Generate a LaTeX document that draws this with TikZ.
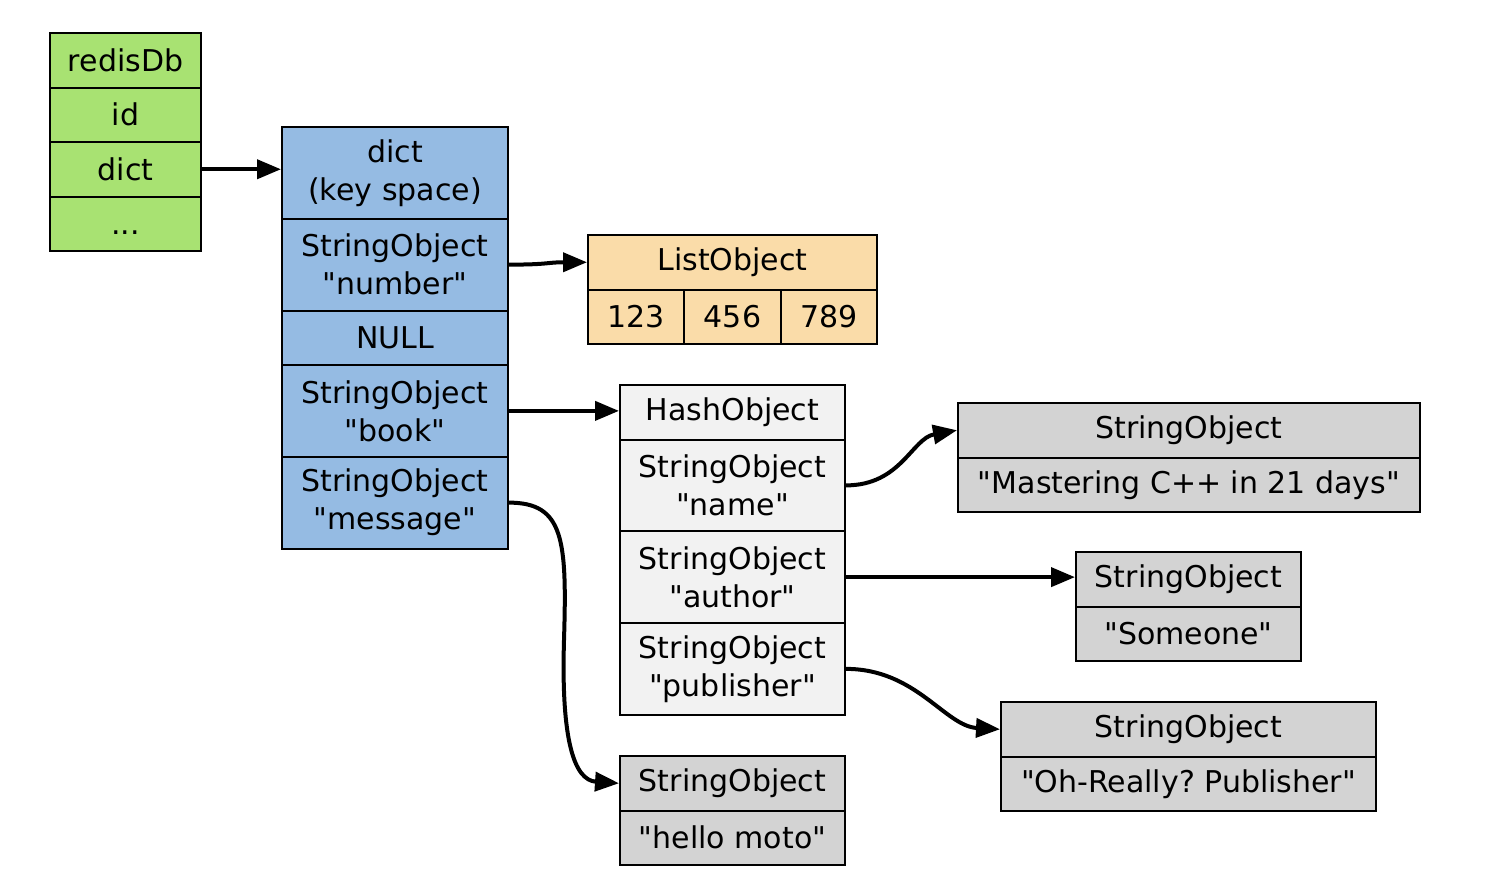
\documentclass[tikz,border=0pt]{standalone}
\usepackage{fontspec}
\setmainfont{DejaVu Sans}[Ligatures=TeXOff]
\usetikzlibrary{arrows.meta, calc, positioning}

\definecolor{dbgreen}{HTML}{A8E272}
\definecolor{keyblue}{HTML}{95BBE3}
\definecolor{listorange}{HTML}{FADCA9}
\definecolor{hashgray}{HTML}{F2F2F2}
\definecolor{strgray}{HTML}{D3D3D3}

\tikzset{
  field/.style={draw=black, line width=1pt, inner sep=0pt, align=center, font=\fontsize{15}{19}\selectfont\frenchspacing},
  ptr/.style={line width=2pt, -{Triangle[length=12pt,width=9.5pt]}},
}

\begin{document}
\begin{tikzpicture}[x=0.5pt,y=-0.5pt]
      \useasboundingbox (0,0) rectangle (1486,889);
      % redisDb
      \foreach \n/\t [count=\i] in {head/redisDb,id/id,dict/dict,more/{\vphantom{d}...}} {
        \node[field,fill=dbgreen,minimum width=75.5pt,minimum height=27.25pt] (db-\n) at (125.5,{33+54.5*(\i-0.5)}) {\t};
      }
      % key space
      \foreach \n/\y/\h/\t in {head/172.875/91.75/{dict\\(key space)},num/264.625/91.75/{StringObject\\"number"},null/337.75/54.5/NULL,book/410.875/91.75/{StringObject\\"book"},msg/502.625/91.75/{StringObject\\"message"}} {
        \node[field,fill=keyblue,minimum width=113pt,minimum height=\h*0.5pt] (key-\n) at (395,\y) {\t};
      }
      % list
      \node[field,fill=listorange,minimum width=144.5pt,minimum height=27.25pt] (list-head) at (732.5,262.25) {ListObject};
      \foreach \v [count=\i] in {123,456,789} {
        \node[field,fill=listorange,minimum width=48.1667pt,minimum height=27.25pt] (list-\i) at ({588+96.333*(\i-0.5)},316.75) {\v};
      }
      % hash
      \foreach \n/\y/\h/\t in {head/412.25/54.5/HashObject,name/485.375/91.75/{StringObject\\"name"},author/577.125/91.75/{StringObject\\"author"},pub/668.875/91.75/{StringObject\\"publisher"}} {
        \node[field,fill=hashgray,minimum width=112.5pt,minimum height=\h*0.5pt] (hash-\n) at (732.5,\y) {\t};
      }
      % string objects
      \foreach \n/\x/\y/\w/\v in {mast/1189/403/462/{"Mastering C++ in 21 days"},some/1188.5/552/225/{"Someone"},pub/1188.5/702/375/{"Oh-Really? Publisher"},hello/732.5/756/225/{"hello moto"}} {
        \node[field,fill=strgray,minimum width=\w*0.5pt,minimum height=27.25pt] (str-\n-head) at (\x,{\y+27.25}) {StringObject};
        \node[field,fill=strgray,minimum width=\w*0.5pt,minimum height=27.25pt] (str-\n-val) at (\x,{\y+81.75}) {\v};
      }

      \draw[ptr] (db-dict.east) -- (db-dict.east -| key-head.west);
      \draw[ptr] (key-num.east) .. controls +(40,0) and +(-40,0) .. (list-head.west);
      \draw[ptr] (key-book.east) -- (key-book.east -| hash-head.west);
      \coordinate (msg-bend) at (564,640);
      \draw[ptr] (key-msg.east) .. controls +(55,0) and +(3,-100) .. (msg-bend) .. controls +(-3,100) and +(-45,-3) .. (str-hello-head.west);
      \draw[ptr] (hash-name.east) .. controls +(55,0) and +(-45,8) .. (str-mast-head.west);
      \draw[ptr] (hash-author.east) -- (hash-author.east -| str-some-head.west);
      \draw[ptr] (hash-pub.east) .. controls +(70,0) and +(-55,-3) .. (str-pub-head.west);
\end{tikzpicture}
\end{document}
